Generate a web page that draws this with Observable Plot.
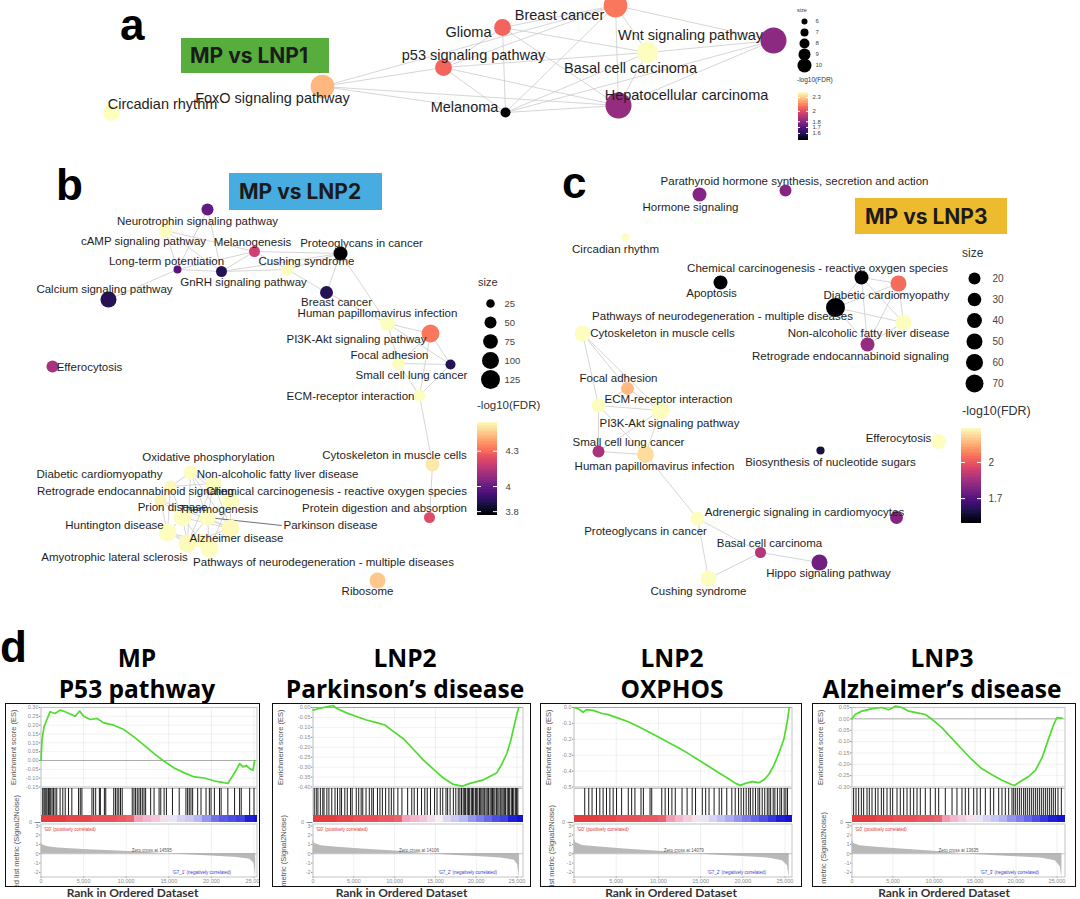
<!DOCTYPE html>
<html>
<head>
<meta charset="utf-8">
<script src="https://cdn.jsdelivr.net/npm/d3@7"></script>
<script src="https://cdn.jsdelivr.net/npm/@observablehq/plot@0.6"></script>
<style>
  html, body { margin:0; padding:0; background:#fff; }
  #page { position:relative; width:1080px; height:899px; overflow:hidden; background:#fff; font-family:"Liberation Sans", Arial, sans-serif; }
  #page svg { display:block; }
  .letter { position:absolute; font-family:"Liberation Sans", Arial, sans-serif; font-weight:bold; font-size:44px; line-height:44px; color:#000; }
  .tag { position:absolute; font-family:Inter, "Open Sans", sans-serif; font-weight:700; font-size:21px; color:#1b1b1b; box-sizing:border-box; line-height:1; display:flex; align-items:center; white-space:nowrap; }
  .gtitle { position:absolute; width:280px; text-align:center; font-family:"Open Sans", Inter, sans-serif; font-weight:700; font-size:24.5px; line-height:31px; color:#000; white-space:nowrap; }
  .rank { position:absolute; width:260px; text-align:center; font-family:Lato, sans-serif; font-weight:700; font-size:12px; line-height:12px; color:#333; white-space:nowrap; }
  .box { position:absolute; box-sizing:border-box; border:1.5px solid #111; overflow:hidden; background:#fff; }
  .ltitle { position:absolute; white-space:nowrap; color:#333; font-family:"Liberation Sans", Arial, sans-serif; }
</style>
</head>
<body>
<div id="page"></div>
<script>
// ======================= DATA =======================
// ---- Panel a: MP vs LNP1 network (layout coordinates, gene-set size, -log10 FDR)
const aNames = ["Circadian rhythm","FoxO signaling pathway","p53 signaling pathway","Glioma","Breast cancer","Wnt signaling pathway","Basal cell carcinoma","Melanoma","Hepatocellular carcinoma"];
const aX = [111,322,443,502,615,773,647,505,618];
const aY = [112,86,67,27,5,40,52,112,105];
const aLabelX = [162,272,473,468,559,690,630,464,686];
const aLabelY = [104,98,55,32,15,35,68,107,95];
const aSize = [6,9,6,6,9,10,8,3,10];
const aFDR = [2.42,2.25,2.07,2.07,2.11,1.81,2.42,1.49,1.83];
const aEdges = [[1,2],[1,4],[1,7],[1,8],[2,3],[2,4],[2,6],[2,7],[2,8],[3,4],[3,6],[3,7],[3,8],[4,5],[4,6],[4,7],[4,8],[5,6],[5,7],[5,8],[6,7],[6,8],[7,8]];
const aSizeBreaks = [6,7,8,9,10];
const aColorTicks = [1.6,1.7,1.8,2,2.3];

// ---- Panel b: MP vs LNP2 network
const bNames = ["Neurotrophin signaling pathway","cAMP signaling pathway","Melanogenesis","Proteoglycans in cancer","Long-term potentiation","GnRH signaling pathway","Cushing syndrome","Calcium signaling pathway","Breast cancer","Human papillomavirus infection","PI3K-Akt signaling pathway","Focal adhesion","Small cell lung cancer","ECM-receptor interaction","Efferocytosis","Cytoskeleton in muscle cells","Protein digestion and absorption","Ribosome","Oxidative phosphorylation","Diabetic cardiomyopathy","Non-alcoholic fatty liver disease","Retrograde endocannabinoid signaling","Chemical carcinogenesis - reactive oxygen species","Prion disease","Thermogenesis","Parkinson disease","Huntington disease","Alzheimer disease","Amyotrophic lateral sclerosis","Pathways of neurodegeneration - multiple diseases"];
const bX = [207,165,254,340,177,221,287,108,326,387,430,398,450,419,52,432,429,377,190,170,213,160,230,182,230,207,167,187,200,209];
const bY = [209,230,251,253,269,271,269,299,292,323,333,363,364,395,366,464,517,580,472,486,483,500,500,517,528,517,532,543,540,548];
const bLabelX = [197,143,252,361,166,243,306,104,336,377,356,389,411,350,89,394,384,367,208,99,277,135,336,172,218,330,114,236,114,323];
const bLabelY = [221,241,242,243,261,282,261,289,302,313,339,355,375,396,367,455,508,591,457,474,474,491,491,507,509,525,525,538,557,562];
const bSize = [50,68,42,68,22,42,50,89,58,78,112,58,35,50,50,68,42,89,68,50,89,50,112,112,112,89,112,112,68,112];
const bFDR = [3.99,4.56,4.19,3.77,3.97,3.88,4.56,3.88,3.88,4.56,4.32,4.56,3.88,4.56,4.12,4.52,4.23,4.46,4.56,4.55,4.56,4.54,4.56,4.56,4.55,4.56,4.56,4.55,4.56,4.56];
const bEdges = [[0,4],[0,5],[1,4],[1,2],[1,5],[4,7],[4,2],[4,5],[2,5],[2,6],[5,6],[2,3],[6,3],[5,3],[3,8],[6,8],[3,9],[8,9],[9,10],[9,11],[9,12],[10,11],[10,12],[11,12],[11,13],[12,13],[10,13],[13,15],[15,16],
  [18,20],[18,19],[18,22],[18,24],[18,25],[19,20],[19,21],[19,23],[19,26],[20,22],[20,24],[20,25],[21,23],[21,26],[21,24],[22,24],[22,25],[22,29],[23,24],[23,26],[23,27],[24,25],[24,27],[24,29],[25,27],[25,29],[26,27],[26,28],[27,28],[27,29],[28,29],[23,28],[26,29],[20,27],[18,27]];
const bLeaderNodes = [25];
const bSizeBreaks = [25,50,75,100,125];
const bColorTicks = [3.8,4,4.3];

// ---- Panel c: MP vs LNP3 network
const cNames = ["Parathyroid hormone synthesis, secretion and action","Hormone signaling","Circadian rhythm","Apoptosis","Chemical carcinogenesis - reactive oxygen species","Diabetic cardiomyopathy","Pathways of neurodegeneration - multiple diseases","Non-alcoholic fatty liver disease","Retrograde endocannabinoid signaling","Cytoskeleton in muscle cells","Focal adhesion","ECM-receptor interaction","PI3K-Akt signaling pathway","Small cell lung cancer","Human papillomavirus infection","Biosynthesis of nucleotide sugars","Efferocytosis","Adrenergic signaling in cardiomyocytes","Proteoglycans in cancer","Basal cell carcinoma","Hippo signaling pathway","Cushing syndrome"];
const cX = [785,699,625,720,861,898,835,903,867,582,627,598,660,598,645,820,938,896,697,760,819,708];
const cY = [190,194,237,282,277,283,307,322,344,333,388,405,410,451,454,450,441,517,518,552,562,578];
const cLabelX = [794,690,615,711,817,886,722,868,850,662,618,668,669,628,654,830,898,804,645,769,828,698];
const cLabelY = [181,207,249,293,268,295,316,333,356,333,378,399,423,442,466,462,438,512,531,543,573,591];
const cSize = [20,33,4,33,33,50,81,50,33,50,26,33,70,20,59,4,41,26,33,15,50,50];
const cFDR = [1.79,1.79,2.33,1.52,1.52,2.04,1.52,2.33,1.82,2.33,2.19,2.33,2.33,1.86,2.26,1.60,2.33,1.79,2.33,1.88,1.75,2.33];
const cEdges = [[9,10],[9,11],[9,12],[10,11],[10,12],[11,12],[11,13],[11,14],[12,14],[12,13],[13,14],[14,18],[18,19],[18,21],[19,21],[19,20],[4,5],[4,6],[4,7],[4,8],[5,6],[5,7],[5,8],[6,7],[6,8],[7,8]];
const cSizeBreaks = [20,30,40,50,60,70];
const cColorTicks = [1.7,2];

// ---- Panel d: GSEA enrichment plots (rank in thousands)
const gseaTop = ["MP","LNP2","LNP2","LNP3"];
const gseaBottom = ["P53 pathway","Parkinson’s disease","OXPHOS","Alzheimer’s disease"];
const rankTicks = [0,5,10,15,20,25];

const es1 = [[0,0],[0.12,0.115],[0.35,0.19],[1.06,0.276],[1.65,0.266],[2.24,0.285],[2.83,0.276],[3.43,0.263],[4.0,0.25],[4.53,0.28],[5.0,0.25],[5.79,0.232],[6.58,0.238],[7.36,0.213],[8.54,0.2],[9.72,0.175],[10.9,0.134],[12.09,0.087],[13.27,0.039],[14.45,-0.004],[15.63,-0.042],[16.81,-0.07],[18.0,-0.093],[19.17,-0.099],[20.35,-0.116],[21.14,-0.122],[21.93,-0.13],[22.32,-0.1],[22.91,-0.055],[23.31,-0.018],[23.7,-0.036],[24.1,-0.028],[24.49,-0.046],[24.88,-0.055],[25.08,0.0]];
const es2 = [[0,-0.013],[0.82,-0.004],[1.84,0.005],[2.46,0.01],[2.87,-0.004],[4.1,-0.027],[5.33,-0.045],[6.56,-0.063],[7.79,-0.076],[8.81,-0.088],[9.84,-0.12],[11.07,-0.157],[12.3,-0.21],[13.53,-0.265],[14.75,-0.31],[15.98,-0.355],[17.21,-0.387],[18.24,-0.396],[19.26,-0.382],[20.08,-0.373],[20.9,-0.364],[21.72,-0.346],[22.54,-0.328],[23.16,-0.283],[23.77,-0.229],[24.18,-0.175],[24.59,-0.103],[25.0,-0.031],[25.2,-0.004]];
const es3 = [[0,0.0],[0.48,-0.007],[1.07,-0.03],[1.47,-0.013],[2.26,-0.018],[3.25,-0.036],[4.05,-0.045],[5.24,-0.067],[6.43,-0.09],[7.62,-0.12],[8.81,-0.152],[10.0,-0.186],[11.19,-0.22],[12.38,-0.253],[13.57,-0.29],[14.76,-0.33],[15.95,-0.37],[17.14,-0.41],[18.33,-0.448],[19.13,-0.477],[19.72,-0.49],[20.32,-0.477],[21.11,-0.466],[21.9,-0.473],[22.5,-0.455],[23.1,-0.42],[23.69,-0.363],[24.29,-0.285],[24.88,-0.197],[25.28,-0.085],[25.5,0.0]];
const es4 = [[0,0],[0.41,0.02],[1.22,0.034],[2.44,0.045],[3.66,0.05],[4.47,0.04],[5.29,0.056],[6.1,0.05],[6.91,0.034],[8.13,0.025],[8.94,0.019],[9.76,-0.002],[10.98,-0.04],[12.2,-0.087],[13.41,-0.134],[14.63,-0.18],[15.85,-0.22],[17.07,-0.246],[18.29,-0.27],[19.51,-0.29],[19.84,-0.293],[20.53,-0.276],[21.54,-0.254],[22.36,-0.227],[23.17,-0.172],[23.98,-0.087],[24.59,-0.025],[25.0,0.006],[25.41,0.003],[25.6,0.003]];

const esTicks1 = [0.30,0.25,0.20,0.15,0.10,0.05,0.00,-0.05,-0.10,-0.15];
const esTicks2 = [0.00,-0.05,-0.10,-0.15,-0.20,-0.25,-0.30,-0.35,-0.40];
const esTicks3 = [0.0,-0.1,-0.2,-0.3,-0.4,-0.5];
const esTicks4 = [0.05,0.00,-0.05,-0.10,-0.15,-0.20,-0.25,-0.30];

const hits1 = [0.2,0.35,0.47,0.59,0.71,0.87,0.98,1.14,1.3,1.46,1.65,1.85,2.24,2.56,2.84,3.23,3.62,4.41,4.61,4.8,5.98,6.18,6.42,6.85,6.97,7.44,7.6,8.54,8.74,8.94,9.13,9.33,9.53,10.71,10.91,11.1,11.3,11.5,11.69,11.89,12.09,12.28,12.87,13.27,13.86,14.06,14.45,14.72,15.43,16.22,17.01,17.21,17.4,17.6,17.8,18.39,18.78,19.37,19.76,19.96,20.35,20.95,21.14,21.93,22.72,23.31,23.5,24.49,25.0];
const hits2 = [0.15,0.4,0.6,0.9,1.2,1.35,1.7,1.95,2.3,2.7,3.0,3.3,3.5,3.9,4.2,4.6,4.8,5.3,5.6,5.9,6.1,6.5,6.9,7.2,7.4,7.9,8.2,8.5,8.9,9.3,9.6,9.9,10.4,10.9,11.6,12.1,12.4,12.8,13.3,13.7,14.0,14.4,14.9,15.2,15.6,15.9,16.3,16.5,16.8,17.2,17.5,17.8,18.0,18.2,18.4,18.55,18.7,18.9,19.05,19.2,19.4,19.55,19.7,19.9,20.05,20.2,20.4,20.55,20.7,20.85,21.0,21.2,21.35,21.5,21.7,21.85,22.0,22.15,22.3,22.5,22.65,22.8,23.0,23.15,23.3,23.45,23.6,23.8,23.95,24.1,24.3,24.45,24.6,24.8,24.95,25.1];
const hits3 = [1.27,1.75,2.14,2.66,3.06,3.45,3.85,4.25,4.64,5.04,5.64,6.43,6.83,7.22,7.94,8.22,9.01,9.21,10.4,10.8,11.2,11.6,12.0,12.8,13.4,14.0,14.4,15.2,15.6,16.0,16.6,17.2,17.5,18.1,18.7,19.1,19.5,19.8,20.1,20.4,20.7,20.9,21.2,21.5,21.8,22.0,22.3,22.6,22.9,23.1,23.3,23.6,23.8,24.1,24.4,24.6,24.9,25.1,25.3];
const hits4 = [0.2,0.49,0.81,1.14,1.42,1.83,2.11,2.44,2.85,3.17,3.58,3.86,4.27,4.67,4.96,5.49,5.89,6.3,6.71,7.11,7.52,7.93,8.33,8.94,9.55,10.16,10.57,11.38,12.2,12.8,13.41,13.82,14.23,14.84,15.24,15.65,16.26,16.87,17.28,17.89,18.29,18.7,19.11,19.51,19.72,19.92,20.16,20.41,20.65,20.93,21.14,21.38,21.63,21.87,22.11,22.36,22.6,22.85,23.09,23.33,23.58,23.82,24.07,24.31,24.55,24.8,25.12,25.53];

// heat-map level of the ranked list per 1,000-rank bin (+1 red ... -1 blue)
const bar1 = [1,1,1,0.95,0.95,0.95,0.9,0.9,0.9,0.85,0.8,0.45,0.35,0.25,0.1,-0.05,-0.15,-0.2,-0.3,-0.45,-0.6,-0.7,-0.75,-0.8,-0.95,-1];
const bar2 = [1,1,1,0.95,0.95,0.9,0.9,0.9,0.85,0.85,0.8,0.45,0.35,0.25,0.12,0,-0.12,-0.2,-0.3,-0.45,-0.55,-0.65,-0.75,-0.8,-0.95,-1];
const bar3 = [1,1,1,0.95,0.95,0.9,0.9,0.9,0.85,0.85,0.8,0.5,0.35,0.2,0.08,-0.05,-0.15,-0.25,-0.35,-0.45,-0.55,-0.65,-0.75,-0.85,-0.95,-1];
const bar4 = [1,1,1,0.95,0.95,0.9,0.9,0.9,0.85,0.85,0.8,0.5,0.35,0.22,0.1,-0.05,-0.15,-0.22,-0.32,-0.45,-0.55,-0.65,-0.75,-0.85,-0.95,-1];

const metric1 = [[0,1.2],[0.2,0.95],[0.8,0.75],[2,0.62],[5,0.45],[9,0.3],[12,0.15],[14.6,0],[17,-0.12],[20,-0.25],[23,-0.4],[24.5,-0.6],[25.0,-1.0],[25.2,-2.5]];
const metric2 = [[0,1.5],[0.2,1.1],[1,0.85],[3,0.7],[6,0.52],[10,0.3],[14.1,0],[17,-0.15],[20,-0.3],[23,-0.45],[24.7,-0.7],[25.1,-1.2],[25.3,-2.6]];
const metric3 = [[0,1.6],[0.2,1.2],[1,0.9],[3,0.72],[6,0.5],[10,0.28],[14.1,0],[17,-0.15],[20,-0.3],[23,-0.45],[24.7,-0.75],[25.3,-1.3],[25.5,-2.7]];
const metric4 = [[0,1.5],[0.2,1.1],[1,0.85],[3,0.7],[6,0.5],[10,0.28],[13.6,0],[17,-0.2],[20,-0.32],[23,-0.45],[24.8,-0.75],[25.4,-1.4],[25.6,-2.6]];
const metricTicks = [3,2,1,0,-1,-2];

const zeroTexts = ["Zero cross at 14595","Zero cross at 14106","Zero cross at 14079","Zero cross at 13635"];
const posTexts = ["'G0' (positively correlated)","'G0' (positively correlated)","'G0' (positively correlated)","'G0' (positively correlated)"];
const negTexts = ["'G7_1' (negatively correlated)","'G7_2' (negatively correlated)","'G7_2' (negatively correlated)","'G7_3' (negatively correlated)"];

// ======================= LAYOUT / STYLE =======================
const page = document.getElementById("page");
const FONT = "Liberation Sans, Arial, sans-serif";

function put(el, left, top) {
  el.style.position = "absolute";
  el.style.left = left + "px";
  el.style.top = top + "px";
  page.appendChild(el);
  return el;
}
function div(cls, html, left, top, css = {}) {
  const d = document.createElement("div");
  d.className = cls;
  d.innerHTML = html;
  Object.assign(d.style, css);
  return put(d, left, top);
}

function nodesOf(names, xs, ys, lxs, lys, sizes, fdrs) {
  return names.map((name, i) => ({name, x: xs[i], y: ys[i], lx: lxs[i], ly: lys[i], size: sizes[i], fdr: fdrs[i]}));
}

function network(nodes, edges, colorDomain, rOpts, fontSize, leaderIdx = []) {
  const links = edges.map(([a, b]) => ({a: nodes[a], b: nodes[b]}));
  const leaders = leaderIdx.map(i => nodes[i]);
  return Plot.plot({
    width: 1080, height: 620, margin: 0,
    x: {domain: [0, 1080], range: [0, 1080], axis: null},
    y: {domain: [0, 620], range: [0, 620], axis: null},
    color: {type: "log", scheme: "magma", domain: colorDomain},
    r: rOpts,
    style: {background: "transparent", overflow: "visible", fontFamily: FONT},
    marks: [
      Plot.link(links, {x1: d => d.a.x, y1: d => d.a.y, x2: d => d.b.x, y2: d => d.b.y, stroke: "#c4c4c4", strokeWidth: 0.7}),
      Plot.link(leaders, {x1: "x", y1: "y", x2: d => d.lx - d.name.length * 2.75 - 2, y2: "ly", stroke: "#333", strokeWidth: 0.7}),
      Plot.dot(nodes, {x: "x", y: "y", r: "size", fill: "fdr"}),
      Plot.text(nodes, {x: "lx", y: "ly", text: "name", fontSize, fill: "#1e1e1e"})
    ]
  });
}

function sizeLegend(breaks, rOpts, cx, y0, y1, fontSize, labelDx) {
  const pad = 12;
  const svg = Plot.plot({
    width: 24, height: (y1 - y0) + 2 * pad, margin: 0,
    x: {axis: null, domain: [0, 1]},
    y: {type: "point", domain: breaks, range: [pad, pad + (y1 - y0)], padding: 0, axis: null},
    r: rOpts,
    style: {background: "transparent", overflow: "visible", fontFamily: FONT},
    marks: [
      Plot.dot(breaks, {y: d => d, r: d => d, fill: "black"}),
      Plot.text(breaks, {y: d => d, text: d => String(d), dx: labelDx, textAnchor: "start", fontSize, fill: "#444"})
    ]
  });
  return put(svg, cx - 12, y0 - pad);
}

function colorLegend(domain, ticks, left, top, w, h, fontSize, labelDx) {
  const [lo, hi] = domain;
  const n = 64;
  const steps = d3.range(n).map(i => [lo * Math.pow(hi / lo, i / n), lo * Math.pow(hi / lo, (i + 1) / n)]);
  const svg = Plot.plot({
    width: w, height: h, margin: 0,
    x: {axis: null, domain: [0, 1]},
    y: {type: "log", domain: [lo, hi], range: [h, 0], axis: null},
    color: {type: "log", scheme: "magma", domain},
    style: {background: "transparent", overflow: "visible", fontFamily: FONT},
    marks: [
      Plot.rect(steps, {x1: 0, x2: 1, y1: d => d[0], y2: d => d[1], fill: d => Math.sqrt(d[0] * d[1]), shapeRendering: "crispEdges"}),
      Plot.ruleY(ticks, {y: d => d, x1: 0, x2: 0.2, stroke: "white", strokeWidth: 1}),
      Plot.ruleY(ticks, {y: d => d, x1: 0.8, x2: 1, stroke: "white", strokeWidth: 1}),
      Plot.text(ticks, {y: d => d, x: 1, text: d => String(d), dx: labelDx, textAnchor: "start", fontSize, fill: "#444"})
    ]
  });
  return put(svg, left, top);
}

// ---- scales shared by each network and its legend
const aColorDomain = [1.49, 2.42];
const bColorDomain = [3.77, 4.56];
const cColorDomain = [1.52, 2.33];
const aR = {type: "linear", domain: [3, 10], range: [5, 13]};
const aRLegend = {type: "linear", domain: [6, 10], range: [3, 7]};
const bR = {type: "sqrt", domain: [0, 125], range: [0, 9.5]};
const cR = {type: "sqrt", domain: [20, 70], range: [6, 9]};

// ---- networks
put(network(nodesOf(aNames, aX, aY, aLabelX, aLabelY, aSize, aFDR), aEdges, aColorDomain, aR, 14.5), 0, 0);
put(network(nodesOf(bNames, bX, bY, bLabelX, bLabelY, bSize, bFDR), bEdges, bColorDomain, bR, 11.5, bLeaderNodes), 0, 0);
put(network(nodesOf(cNames, cX, cY, cLabelX, cLabelY, cSize, cFDR), cEdges, cColorDomain, cR, 11.5), 0, 0);

// ---- legends
div("ltitle", "size", 797, 7, {fontSize: "5.5px", lineHeight: "6px"});
sizeLegend(aSizeBreaks, aRLegend, 804, 20, 66, 6, 11);
div("ltitle", "-log10(FDR)", 797, 76, {fontSize: "6.5px", lineHeight: "7px"});
colorLegend(aColorDomain, aColorTicks, 798, 92, 10, 48, 6, 4);

div("ltitle", "size", 478, 276, {fontSize: "11px", lineHeight: "12px"});
sizeLegend(bSizeBreaks, bR, 490, 302, 380, 9.5, 14);
div("ltitle", "-log10(FDR)", 477, 399, {fontSize: "11.5px", lineHeight: "12px"});
colorLegend(bColorDomain, bColorTicks, 477, 422, 20, 93, 9.5, 8);

div("ltitle", "size", 962, 247, {fontSize: "12px", lineHeight: "13px"});
sizeLegend(cSizeBreaks, cR, 974, 276, 385, 10, 18);
div("ltitle", "-log10(FDR)", 962, 405, {fontSize: "12.5px", lineHeight: "13px"});
colorLegend(cColorDomain, cColorTicks, 961, 428, 20, 95, 10, 7);

// ---- panel letters & comparison tags
div("letter", "a", 120, 2.8);
div("letter", "b", 56, 162.8);
div("letter", "c", 562, 160.8);
div("letter", "d", 0, 624.8);
div("tag", "MP vs LNP1", 181, 38, {width: "148px", height: "35px", background: "#58ae3d", paddingLeft: "9px"});
div("tag", "MP vs LNP2", 229, 173, {width: "153px", height: "37px", background: "#47ade0", paddingLeft: "10px"});
div("tag", "MP vs LNP3", 855, 198, {width: "152px", height: "36px", background: "#efbb2e", paddingLeft: "10px"});

// ---- GSEA panels
const boxLeft = [5, 272, 540, 812];
const boxRight = [260, 531, 802, 1076];
const rank0Px = [41, 313, 574, 852];
const rank25Px = [254, 517, 785, 1057];
const plotRightPx = [257, 523, 792, 1065];
const titleCenter = [137, 405, 672, 942];
const metricLabelTopPx = [795, 815, 805, 812];
const BOX_TOP = 703, BOX_H = 184, BORDER = 1.5;

const barColor = {type: "linear", domain: [-1, -0.7, -0.3, 0, 0.4, 0.75, 1],
  range: ["#1212d2", "#5a5ae6", "#b8b8f2", "#f4eef6", "#f2b0c8", "#ec6c78", "#e33d3f"]};

const esSets = [es1, es2, es3, es4];
const esTickSets = [esTicks1, esTicks2, esTicks3, esTicks4];
const esDigits = [2, 2, 1, 2];
const hitSets = [hits1, hits2, hits3, hits4];
const barSets = [bar1, bar2, bar3, bar4];
const metricSets = [metric1, metric2, metric3, metric4];

for (let k = 0; k < 4; k++) {
  const outerW = boxRight[k] - boxLeft[k];
  const innerW = outerW - 2 * BORDER;
  const innerLeft = boxLeft[k] + BORDER;
  const kx = (rank25Px[k] - rank0Px[k]) / 25;
  const mL = rank0Px[k] - innerLeft;
  const xMax = (plotRightPx[k] - rank0Px[k]) / kx;
  const mR = innerW - (plotRightPx[k] - innerLeft);
  const ticks = esTickSets[k];
  const yDom = [d3.min(ticks), d3.max(ticks)];
  const common = {width: innerW, marginLeft: mL, marginRight: mR,
    style: {background: "transparent", overflow: "visible", fontFamily: FONT, fontSize: "5.5px", color: "#8a8a8a"}};

  const box = document.createElement("div");
  box.className = "box";
  Object.assign(box.style, {left: boxLeft[k] + "px", top: BOX_TOP + "px", width: outerW + "px", height: BOX_H + "px"});
  page.appendChild(box);

  const esPlot = Plot.plot({...common, height: 84, marginTop: 3, marginBottom: 1.5,
    x: {domain: [0, xMax], axis: null},
    y: {domain: yDom, ticks, tickFormat: d => d.toFixed(esDigits[k]), tickSize: 1.5, tickPadding: 1, label: null},
    marks: [
      Plot.ruleX(rankTicks, {x: d => d, stroke: "#000", strokeOpacity: 0.06}),
      Plot.ruleY(ticks, {y: d => d, stroke: "#000", strokeOpacity: 0.05}),
      Plot.frame({stroke: "#c4c4c4"}),
      Plot.ruleY([0], {stroke: "#9a9a9a", strokeWidth: 0.8}),
      Plot.line(esSets[k], {x: d => d[0], y: d => d[1], stroke: "#4fdc2e", strokeWidth: 1.7}),
      Plot.text(["Enrichment score (ES)"], {frameAnchor: "left", textAnchor: "middle", rotate: -90, dx: -(mL - 7), fontSize: 7.5, fill: "#555"})
    ]});
  const hitPlot = Plot.plot({...common, height: 27, marginTop: 0, marginBottom: 0,
    x: {domain: [0, xMax], axis: null},
    marks: [
      Plot.frame({stroke: "#c4c4c4"}),
      Plot.ruleX(hitSets[k], {x: d => d, stroke: "#000", strokeWidth: 0.9})
    ]});
  const barPlot = Plot.plot({...common, height: 7, marginTop: 0, marginBottom: 0,
    x: {domain: [0, xMax], axis: null},
    color: barColor,
    marks: [
      Plot.rect(barSets[k], {x1: (d, i) => i, x2: (d, i) => Math.min(i + 1, xMax), y1: 0, y2: 1, fill: d => d, shapeRendering: "crispEdges"})
    ]});
  const metricPlot = Plot.plot({...common, height: BOX_H - 2 * BORDER - 84 - 27 - 7, marginTop: 1.5, marginBottom: 8.5,
    x: {domain: [0, xMax], ticks: rankTicks, tickFormat: d => d === 0 ? "0" : d3.format(",")(d * 1000), tickSize: 1.5, tickPadding: 1, label: null},
    y: {domain: [-2.5, 3.2], ticks: metricTicks, tickFormat: d => String(d), tickSize: 1.5, tickPadding: 1, label: null},
    marks: [
      Plot.ruleX(rankTicks, {x: d => d, stroke: "#000", strokeOpacity: 0.06}),
      Plot.frame({stroke: "#c4c4c4"}),
      Plot.areaY(metricSets[k], {x: d => d[0], y: d => d[1], fill: "#b9b9b9"}),
      Plot.ruleY([0], {stroke: "#9a9a9a", strokeWidth: 0.6}),
      Plot.text([posTexts[k]], {frameAnchor: "top-left", dx: 3, dy: 3.5, textAnchor: "start", fontSize: 4.5, fill: "#e03030"}),
      Plot.text([zeroTexts[k]], {x: 13, y: 0, dy: -3, fontSize: 4.5, fill: "#555"}),
      Plot.text([negTexts[k]], {frameAnchor: "bottom-right", dx: -26, dy: -3, textAnchor: "end", fontSize: 4.5, fill: "#3a3acc"}),
      Plot.text(["Ranked list metric (Signal2Noise)"], {frameAnchor: "top-left", rotate: -90, textAnchor: "end",
        dx: -(mL - 7), dy: metricLabelTopPx[k] - (BOX_TOP + BORDER + 84 + 27 + 7 + 1.5), fontSize: 7.5, fill: "#555"})
    ]});
  [esPlot, hitPlot, barPlot, metricPlot].forEach(p => { p.style.position = "relative"; box.appendChild(p); });

  div("gtitle", gseaTop[k] + "<br>" + gseaBottom[k], titleCenter[k] - 140, 641.5);
  div("rank", "Rank in Ordered Dataset", (boxLeft[k] + boxRight[k]) / 2 - 130, 887);
}
</script>
</body>
</html>
